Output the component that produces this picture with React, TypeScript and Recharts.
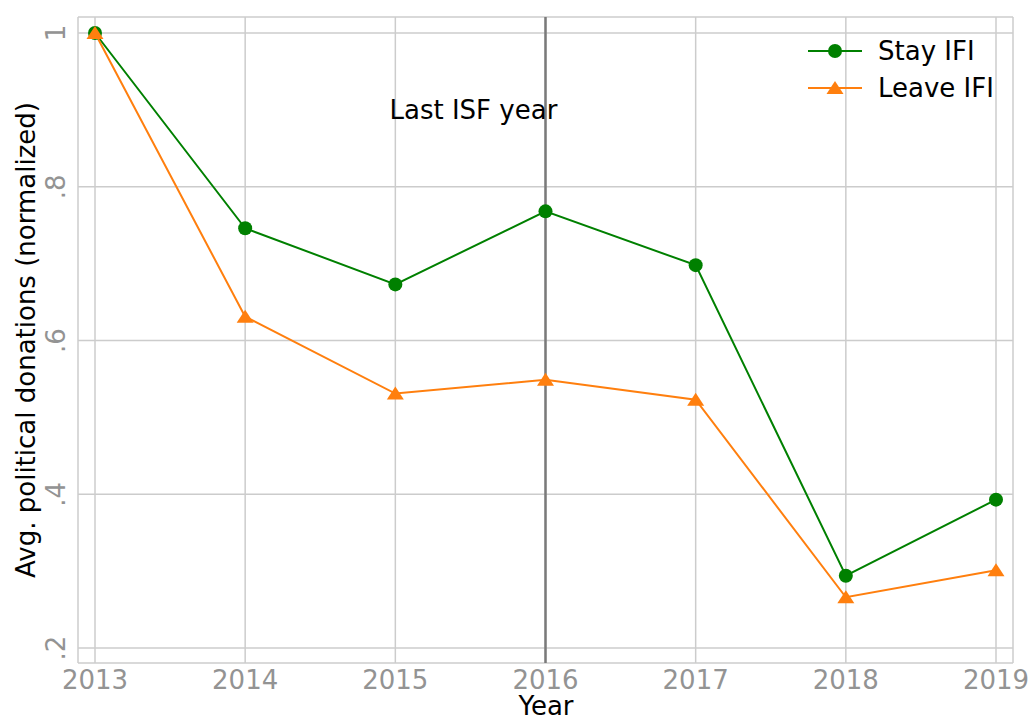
import React from 'react';
import {
  LineChart, Line, XAxis, YAxis, CartesianGrid, ReferenceLine, ReferenceDot, Legend, Label,
} from 'recharts';

const years = [2013, 2014, 2015, 2016, 2017, 2018, 2019];
const stayValues = [1.0, 0.746, 0.673, 0.768, 0.698, 0.294, 0.393];
const leaveValues = [1.0, 0.631, 0.531, 0.549, 0.523, 0.266, 0.301];
const yTicks = [0.2, 0.4, 0.6, 0.8, 1];
const yTickLabels = ['.2', '.4', '.6', '.8', '1'];
const seriesNames = ['Stay IFI', 'Leave IFI'];
const annotationText = 'Last ISF year';
const xTitle = 'Year';
const yTitle = 'Avg. political donations (normalized)';

const data = years.map((y, i) => ({ year: y, stay: stayValues[i], leave: leaveValues[i] }));

const FONT = 'DejaVu Sans';
const TICK_COLOR = '#939393';
const GREEN = '#008000';
const ORANGE = '#ff7f0e';

const XTick = (props: any) => {
  const { x, y, payload } = props;
  return (
    <text x={x} y={y + 18} textAnchor="middle" fontFamily={FONT} fontSize={26} fill={TICK_COLOR}>
      {String(payload.value)}
    </text>
  );
};

const YTick = (props: any) => {
  const { x, y, payload } = props;
  const idx = yTicks.findIndex((t) => Math.abs(t - payload.value) < 1e-6);
  const label = idx >= 0 ? yTickLabels[idx] : String(payload.value);
  const bx = x - 5;
  return (
    <text x={bx} y={y} transform={`rotate(-90, ${bx}, ${y})`} textAnchor="middle" fontFamily={FONT} fontSize={26} fill={TICK_COLOR}>
      {label}
    </text>
  );
};

const CircleDot = (props: any) => {
  const { cx, cy } = props;
  if (cx == null || cy == null) return null;
  return <circle cx={cx} cy={cy} r={7} fill={GREEN} stroke="none" />;
};

const TriangleDot = (props: any) => {
  const { cx, cy } = props;
  if (cx == null || cy == null) return null;
  const w = 8.5, h = 7;
  return <polygon points={`${cx},${cy - h} ${cx - w},${cy + h - 1} ${cx + w},${cy + h - 1}`} fill={ORANGE} stroke="none" />;
};

const LegendContent = () => (
  <svg width={230} height={80} style={{ display: 'block', overflow: 'visible' }}>
    <line x1={8} x2={62} y1={21} y2={21} stroke={GREEN} strokeWidth={2} />
    <circle cx={35} cy={21} r={7} fill={GREEN} />
    <text x={78} y={30} fontFamily={FONT} fontSize={26} fill="#000">{seriesNames[0]}</text>
    <line x1={8} x2={62} y1={58} y2={58} stroke={ORANGE} strokeWidth={2} />
    <polygon points={`35,51 26.5,64 43.5,64`} fill={ORANGE} />
    <text x={78} y={67} fontFamily={FONT} fontSize={26} fill="#000">{seriesNames[1]}</text>
  </svg>
);

const YTitle = (props: any) => {
  const cx = 35;
  const cy = 340;
  return (
    <text x={cx} y={cy} transform={`rotate(-90, ${cx}, ${cy})`} textAnchor="middle" fontFamily={FONT} fontSize={26} fill="#000">
      {yTitle}
    </text>
  );
};

const XTitle = (props: any) => (
  <text x={546} y={715} textAnchor="middle" fontFamily={FONT} fontSize={26} fill="#000">
    {xTitle}
  </text>
);

export default function App() {
  return (
    <div style={{ position: 'absolute', left: 0, top: 0, width: 1033, height: 721, background: '#fff' }}>
      <LineChart width={1033} height={721} data={data} margin={{ top: 17, right: 20, bottom: 0, left: 0 }}>
        <CartesianGrid stroke="#cccccc" strokeWidth={1.5} vertical horizontal />
        <XAxis
          dataKey="year"
          type="number"
          domain={[2013, 2019]}
          ticks={years}
          padding={{ left: 17, right: 17 }}
          axisLine={false}
          tickLine={false}
          height={58}
          tick={<XTick />}
          interval={0}
        >
          <Label content={<XTitle />} />
        </XAxis>
        <YAxis
          type="number"
          domain={[0.2, 1]}
          ticks={yTicks}
          padding={{ top: 16, bottom: 15 }}
          axisLine={false}
          tickLine={false}
          width={78}
          tick={<YTick />}
          interval={0}
        >
          <Label content={<YTitle />} />
        </YAxis>
        <ReferenceLine x={2016} stroke="#7a7a7a" strokeWidth={2.5} />
        <ReferenceDot
          x={2015.52}
          y={0.9}
          r={0}
          fill="none"
          stroke="none"
          label={{ value: annotationText, position: 'center', fontFamily: FONT, fontSize: 26, fill: '#000' }}
        />
        <Line type="linear" dataKey="stay" stroke={GREEN} strokeWidth={2} dot={<CircleDot />} activeDot={false} isAnimationActive={false} />
        <Line type="linear" dataKey="leave" stroke={ORANGE} strokeWidth={2} dot={<TriangleDot />} activeDot={false} isAnimationActive={false} />
        <Legend content={<LegendContent />} wrapperStyle={{ position: 'absolute', top: 30, left: 800, width: 230, height: 0, overflow: 'visible' }} />
      </LineChart>
    </div>
  );
}
